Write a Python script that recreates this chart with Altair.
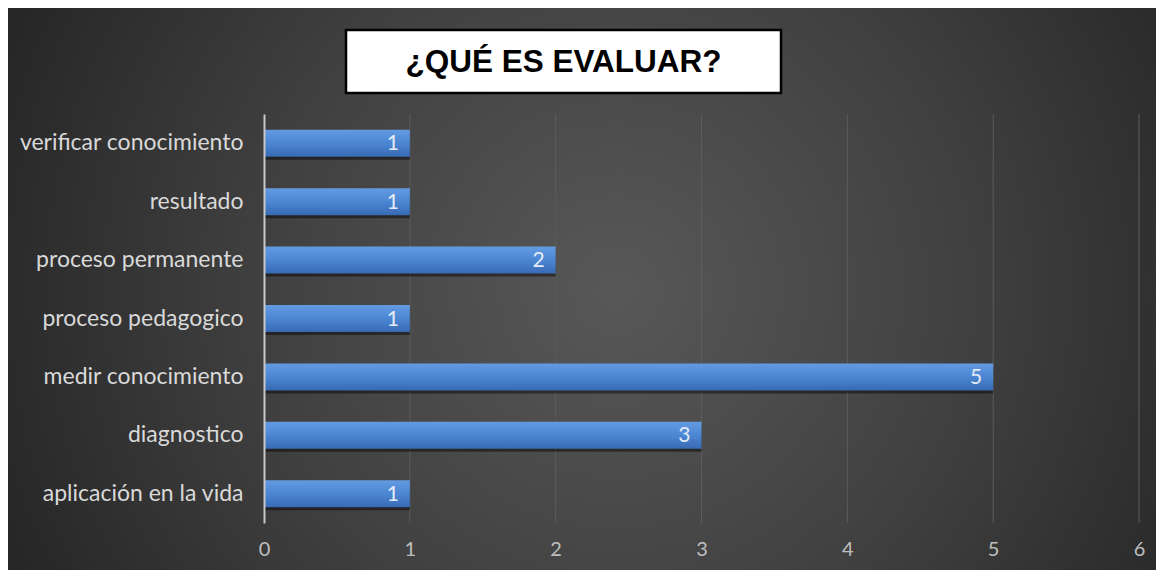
import altair as alt
import pandas as pd

categories = [
    "verificar conocimiento",
    "resultado",
    "proceso permanente",
    "proceso pedagogico",
    "medir conocimiento ",
    "diagnostico ",
    "aplicación en la vida",
]
values = [1, 1, 2, 1, 5, 3, 1]
ticks = [1, 2, 3, 4, 5, 6]
title_text = "¿QUÉ ES EVALUAR?"

W, H = 875, 409
LABEL_FONT = "Lato"

df = pd.DataFrame({"cat": categories, "val": values})
tick_df = pd.DataFrame({"t": ticks})
one = pd.DataFrame({"a": [0]})

bg_grad = {
    "gradient": "radial",
    "x1": 0.53, "y1": 0.5, "r1": 0,
    "x2": 0.53, "y2": 0.5, "r2": 0.62,
    "stops": [
        {"offset": 0, "color": "#585858"},
        {"offset": 0.5, "color": "#404040"},
        {"offset": 1, "color": "#222222"},
    ],
}
bar_grad = {
    "gradient": "linear",
    "x1": 0, "y1": 0, "x2": 0, "y2": 1,
    "stops": [
        {"offset": 0, "color": "#639be2"},
        {"offset": 0.5, "color": "#4c86d3"},
        {"offset": 1, "color": "#386ab3"},
    ],
}

x_scale = alt.Scale(domain=[0, 6], nice=False)
y_scale = alt.Scale(domain=categories, paddingInner=0, paddingOuter=0)

bg = alt.Chart(one).mark_rect(fill=bg_grad).encode(
    x=alt.value(-256), x2=alt.value(892), y=alt.value(-106), y2=alt.value(456)
)

grid = alt.Chart(tick_df).mark_rule(color="#5c5c5c", strokeWidth=1).encode(
    x=alt.X("t:Q", scale=x_scale, axis=alt.Axis(
        title=None,
        values=[0, 1, 2, 3, 4, 5, 6],
        format="d",
        grid=False,
        ticks=False,
        domain=False,
        labelFlush=False,
        labelColor="#bfbfbf",
        labelFont=LABEL_FONT,
        labelFontSize=20,
        labelPadding=16,
        zindex=1,
    ))
)

yenc = alt.Y(
    "cat:N",
    scale=y_scale,
    axis=alt.Axis(
        title=None,
        ticks=False,
        domainColor="#c8c8c8",
        domainWidth=2,
        labelColor="#d9d9d9",
        labelFont=LABEL_FONT,
        labelFontSize=23,
        labelPadding=21,
        labelLimit=400,
        zindex=1,
    ),
)

shadow = alt.Chart(df).mark_bar(size=27, color="#000000", opacity=0.45, yOffset=3).encode(
    x=alt.X("val:Q", scale=x_scale),
    y=alt.Y("cat:N", scale=y_scale),
)

bars = alt.Chart(df).mark_bar(size=27, fill=bar_grad).encode(
    x=alt.X("val:Q", scale=x_scale),
    y=yenc,
)

labels = alt.Chart(df).mark_text(
    align="right", baseline="middle", dx=-11, dy=1, color="#e3ebf6", font=LABEL_FONT, fontSize=21
).encode(x=alt.X("val:Q", scale=x_scale), y=alt.Y("cat:N", scale=y_scale), text="val:Q")

box = alt.Chart(one).mark_rect(fill="white", stroke="black", strokeWidth=2.5).encode(
    x=alt.value(82), x2=alt.value(517), y=alt.value(-84), y2=alt.value(-21)
)
title = alt.Chart(one).mark_text(
    text=title_text, font="Liberation Sans", fontWeight="bold", fontSize=31.5,
    color="black", align="center", baseline="middle",
).encode(x=alt.value(299.5), y=alt.value(-51))

chart = alt.layer(bg, grid, shadow, bars, labels, box, title).properties(
    width=W, height=H, padding=0, background="white"
).configure_view(strokeWidth=0)

chart.save("out.html", embed_options={"renderer": "svg", "actions": False})
